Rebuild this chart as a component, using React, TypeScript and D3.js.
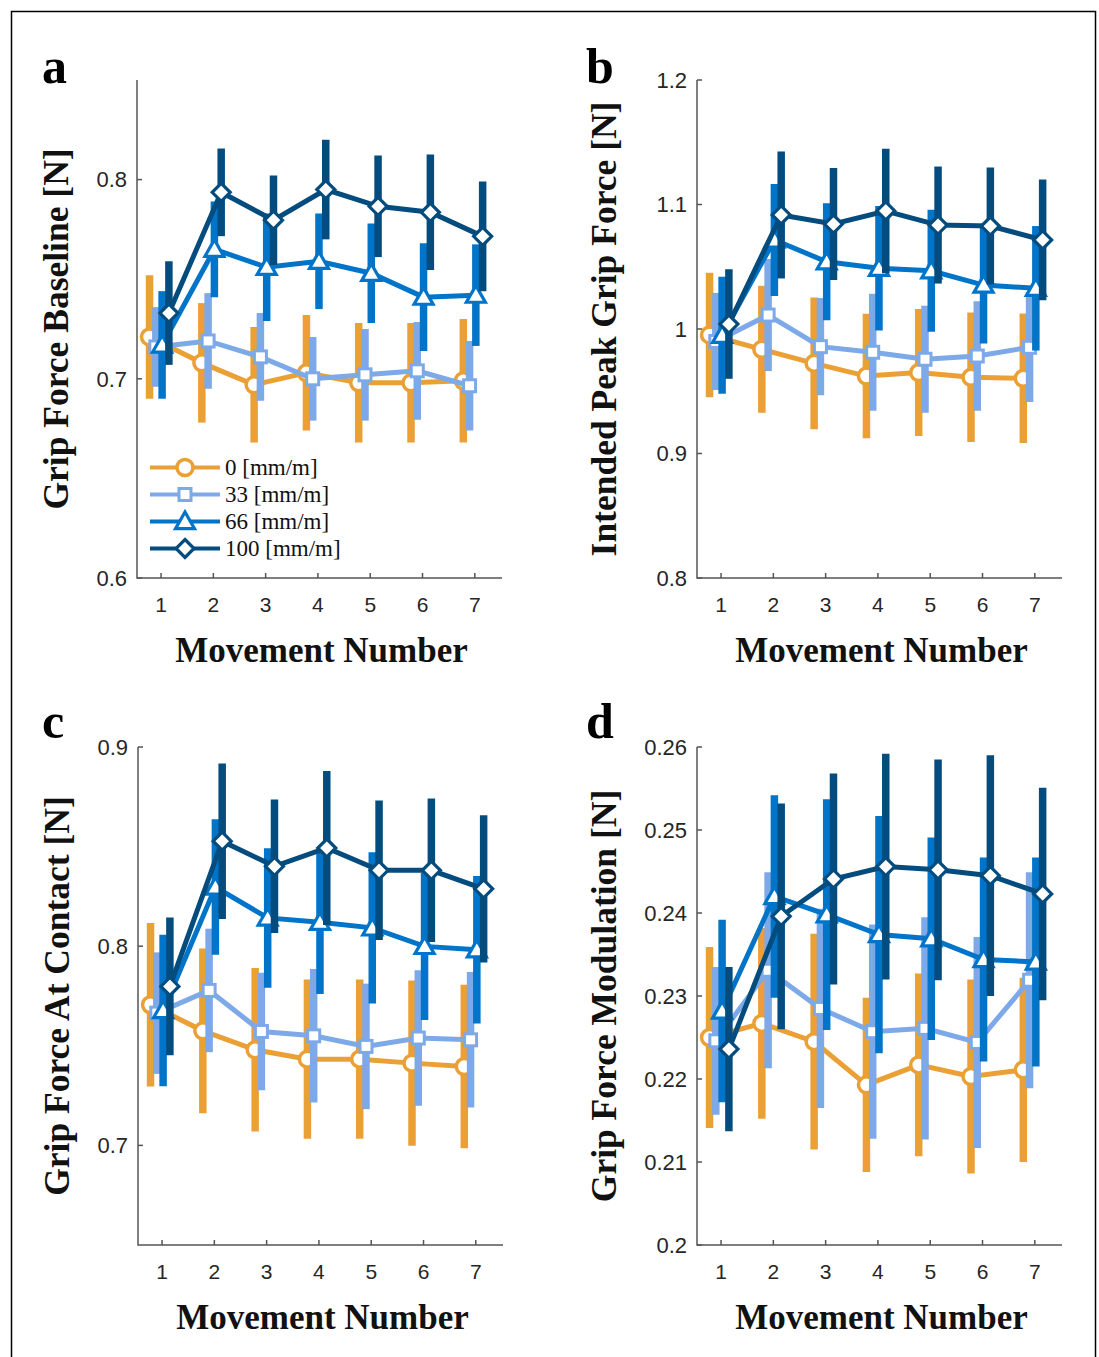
import React, { useEffect, useRef } from "react";
import * as d3 from "d3";

const movements = [1, 2, 3, 4, 5, 6, 7];
const seriesLabels = ["0 [mm/m]", "33 [mm/m]", "66 [mm/m]", "100 [mm/m]"];
const seriesColors = ["#EBA035", "#7DA9E8", "#0074C8", "#044C7E"];
const seriesMarkers = ["circle", "square", "triangle", "diamond"];

// panel a: grip force baseline
const baseline0 = [0.721, 0.708, 0.697, 0.703, 0.698, 0.698, 0.699];
const baseline0Err = [0.031, 0.030, 0.029, 0.029, 0.030, 0.030, 0.031];
const baseline33 = [0.716, 0.719, 0.711, 0.700, 0.702, 0.704, 0.6965];
const baseline33Err = [0.020, 0.024, 0.022, 0.021, 0.023, 0.0245, 0.0225];
const baseline66 = [0.717, 0.765, 0.756, 0.759, 0.753, 0.741, 0.742];
const baseline66Err = [0.027, 0.024, 0.027, 0.024, 0.025, 0.027, 0.0255];
const baseline100 = [0.733, 0.7936, 0.7796, 0.795, 0.7866, 0.7836, 0.7715];
const baseline100Err = [0.026, 0.022, 0.0225, 0.025, 0.0255, 0.029, 0.0275];

// panel b: intended peak grip force
const peak0 = [0.9952, 0.9837, 0.9724, 0.9622, 0.965, 0.9612, 0.9604];
const peak0Err = [0.05, 0.051, 0.053, 0.05, 0.051, 0.052, 0.052];
const peak33 = [0.99, 1.0112, 0.9858, 0.9813, 0.9757, 0.9783, 0.9853];
const peak33Err = [0.039, 0.045, 0.039, 0.047, 0.043, 0.044, 0.044];
const peak66 = [0.995, 1.0715, 1.054, 1.0488, 1.0468, 1.0353, 1.0327];
const peak66Err = [0.047, 0.045, 0.047, 0.05, 0.049, 0.047, 0.05];
const peak100 = [1.004, 1.0916, 1.0843, 1.0948, 1.0835, 1.0827, 1.0715];
const peak100Err = [0.044, 0.051, 0.045, 0.05, 0.047, 0.047, 0.0485];

// panel c: grip force at contact
const contact0 = [0.7706, 0.7575, 0.748, 0.7433, 0.7433, 0.7413, 0.7396];
const contact0Err = [0.041, 0.0413, 0.041, 0.04, 0.04, 0.0415, 0.041];
const contact33 = [0.7664, 0.7778, 0.7572, 0.755, 0.7497, 0.7539, 0.753];
const contact33Err = [0.0305, 0.031, 0.0295, 0.0335, 0.0315, 0.034, 0.034];
const contact66 = [0.7677, 0.8297, 0.8142, 0.812, 0.8092, 0.7999, 0.7982];
const contact66Err = [0.038, 0.034, 0.035, 0.036, 0.038, 0.037, 0.037];
const contact100 = [0.7798, 0.8527, 0.8401, 0.8493, 0.8381, 0.8381, 0.8288];
const contact100Err = [0.0346, 0.039, 0.0335, 0.0386, 0.035, 0.036, 0.037];

// panel d: grip force modulation
const modulation0 = [0.225, 0.2267, 0.2245, 0.2193, 0.2217, 0.2203, 0.2211];
const modulation0Err = [0.0109, 0.0115, 0.013, 0.0105, 0.011, 0.0117, 0.0111];
const modulation33 = [0.2246, 0.2331, 0.2285, 0.2257, 0.2261, 0.2244, 0.2319];
const modulation33Err = [0.0089, 0.0118, 0.012, 0.0129, 0.0134, 0.0127, 0.013];
const modulation66 = [0.2282, 0.242, 0.2398, 0.2374, 0.2369, 0.2344, 0.2341];
const modulation66Err = [0.011, 0.0122, 0.0139, 0.0143, 0.0122, 0.0123, 0.0126];
const modulation100 = [0.2236, 0.2396, 0.2441, 0.2456, 0.2452, 0.2445, 0.2423];
const modulation100Err = [0.0099, 0.0136, 0.0127, 0.0136, 0.0133, 0.0145, 0.0128];

const panels = [
  {
    letter: "a", yLabel: "Grip Force Baseline [N]",
    left: 137, right: 502, top: 80, bottom: 578,
    letterX: 42, letterY: 83, labelX: 68,
    yDomain: [0.6, 0.85], yTicks: [0.6, 0.7, 0.8],
    means: [baseline0, baseline33, baseline66, baseline100],
    errs: [baseline0Err, baseline33Err, baseline66Err, baseline100Err],
    legend: true,
  },
  {
    letter: "b", yLabel: "Intended Peak Grip Force [N]",
    left: 697, right: 1062, top: 80, bottom: 578,
    letterX: 586, letterY: 83, labelX: 616,
    yDomain: [0.8, 1.2], yTicks: [0.8, 0.9, 1, 1.1, 1.2],
    means: [peak0, peak33, peak66, peak100],
    errs: [peak0Err, peak33Err, peak66Err, peak100Err],
    legend: false,
  },
  {
    letter: "c", yLabel: "Grip Force At Contact [N]",
    left: 138, right: 503, top: 747, bottom: 1245,
    letterX: 42, letterY: 738, labelX: 69,
    yDomain: [0.65, 0.9], yTicks: [0.7, 0.8, 0.9],
    means: [contact0, contact33, contact66, contact100],
    errs: [contact0Err, contact33Err, contact66Err, contact100Err],
    legend: false,
  },
  {
    letter: "d", yLabel: "Grip Force Modulation [N]",
    left: 697, right: 1062, top: 747, bottom: 1245,
    letterX: 586, letterY: 738, labelX: 616,
    yDomain: [0.2, 0.26], yTicks: [0.2, 0.21, 0.22, 0.23, 0.24, 0.25, 0.26],
    means: [modulation0, modulation33, modulation66, modulation100],
    errs: [modulation0Err, modulation33Err, modulation66Err, modulation100Err],
    legend: false,
  },
];

const xOffsets = [-0.22, -0.1, 0.02, 0.15];
const serif = "'Liberation Serif', 'Times New Roman', serif";
const sans = "'Liberation Sans', Arial, sans-serif";

function drawMarker(g: any, kind: string, cx: number, cy: number, color: string) {
  if (kind === "circle") {
    g.append("circle").attr("cx", cx).attr("cy", cy).attr("r", 8)
      .attr("fill", "#fff").attr("stroke", color).attr("stroke-width", 3.5);
  } else if (kind === "square") {
    g.append("rect").attr("x", cx - 6).attr("y", cy - 6).attr("width", 12).attr("height", 12)
      .attr("fill", "#fff").attr("stroke", color).attr("stroke-width", 3);
  } else if (kind === "triangle") {
    const s = 9.5;
    g.append("path")
      .attr("d", `M${cx},${cy - s}L${cx + s},${cy + s * 0.75}L${cx - s},${cy + s * 0.75}Z`)
      .attr("fill", "#fff").attr("stroke", color).attr("stroke-width", 3.2)
      .attr("stroke-linejoin", "miter");
  } else {
    const s = 9;
    g.append("path")
      .attr("d", `M${cx},${cy - s}L${cx + s},${cy}L${cx},${cy + s}L${cx - s},${cy}Z`)
      .attr("fill", "#fff").attr("stroke", color).attr("stroke-width", 3.2);
  }
}

export default function App() {
  const ref = useRef<SVGSVGElement>(null);

  useEffect(() => {
    if (!ref.current) return;
    const svg = d3.select(ref.current);
    svg.selectAll("*").remove();

    // outer frame
    svg.append("rect").attr("x", 11.5).attr("y", 11.5).attr("width", 1084).attr("height", 1360)
      .attr("fill", "none").attr("stroke", "#000").attr("stroke-width", 1.5);

    panels.forEach((p) => {
      const g = svg.append("g");
      const x = d3.scaleLinear().domain([0.54, 7.52]).range([p.left, p.right]);
      const y = d3.scaleLinear().domain(p.yDomain).range([p.bottom, p.top]);

      // series
      p.means.forEach((mean, si) => {
        const color = seriesColors[si];
        const pts = movements.map((m, i) => ({
          x: x(m + xOffsets[si]), y: y(mean[i]),
          lo: y(mean[i] - p.errs[si][i]), hi: y(mean[i] + p.errs[si][i]),
        }));
        g.selectAll(null).data(pts).enter().append("line")
          .attr("x1", (d) => d.x).attr("x2", (d) => d.x)
          .attr("y1", (d) => d.lo).attr("y2", (d) => d.hi)
          .attr("stroke", color).attr("stroke-width", 7.5);
        const line = d3.line<any>().x((d) => d.x).y((d) => d.y);
        g.append("path").datum(pts).attr("d", line)
          .attr("fill", "none").attr("stroke", color).attr("stroke-width", 5)
          .attr("stroke-linejoin", "miter");
        pts.forEach((d) => drawMarker(g, seriesMarkers[si], d.x, d.y, color));
      });

      // axes
      const axisColor = "#555";
      g.append("path")
        .attr("d", `M${p.left},${p.top}V${p.bottom}H${p.right}`)
        .attr("fill", "none").attr("stroke", axisColor).attr("stroke-width", 1.5);
      p.yTicks.forEach((t) => {
        g.append("line").attr("x1", p.left).attr("x2", p.left + 5)
          .attr("y1", y(t)).attr("y2", y(t)).attr("stroke", axisColor).attr("stroke-width", 1.5);
        g.append("text").attr("x", p.left - 10).attr("y", y(t)).attr("dy", "0.35em")
          .attr("text-anchor", "end").attr("font-family", sans).attr("font-size", 22)
          .attr("fill", "#262626").text(String(+t.toFixed(2)));
      });
      movements.forEach((m) => {
        g.append("line").attr("x1", x(m)).attr("x2", x(m))
          .attr("y1", p.bottom).attr("y2", p.bottom - 5).attr("stroke", axisColor).attr("stroke-width", 1.5);
        g.append("text").attr("x", x(m)).attr("y", p.bottom + 34)
          .attr("text-anchor", "middle").attr("font-family", sans).attr("font-size", 21)
          .attr("fill", "#262626").text(String(m));
      });

      // titles
      g.append("text").attr("x", (p.left + p.right) / 2 + 2).attr("y", p.bottom + 84)
        .attr("text-anchor", "middle").attr("font-family", serif).attr("font-weight", "bold")
        .attr("font-size", 35).attr("fill", "#111").text("Movement Number");
      g.append("text")
        .attr("transform", `translate(${p.labelX},${(p.top + p.bottom) / 2}) rotate(-90)`)
        .attr("text-anchor", "middle").attr("font-family", serif).attr("font-weight", "bold")
        .attr("font-size", 35.5).attr("fill", "#111").text(p.yLabel);
      g.append("text").attr("x", p.letterX).attr("y", p.letterY)
        .attr("font-family", serif).attr("font-weight", "bold").attr("font-size", 50)
        .attr("fill", "#000").text(p.letter);

      if (p.legend) {
        seriesLabels.forEach((lab, si) => {
          const ly = 467.5 + si * 27;
          g.append("line").attr("x1", 150).attr("x2", 220).attr("y1", ly).attr("y2", ly)
            .attr("stroke", seriesColors[si]).attr("stroke-width", 4);
          drawMarker(g, seriesMarkers[si], 185, ly, seriesColors[si]);
          g.append("text").attr("x", 225).attr("y", ly).attr("dy", "0.33em")
            .attr("font-family", serif).attr("font-size", 23).attr("fill", "#111").text(lab);
        });
      }
    });
  }, []);

  return (
    <svg
      ref={ref}
      width={1099}
      height={1357}
      style={{ position: "absolute", left: 0, top: 0, background: "#fff" }}
    />
  );
}
